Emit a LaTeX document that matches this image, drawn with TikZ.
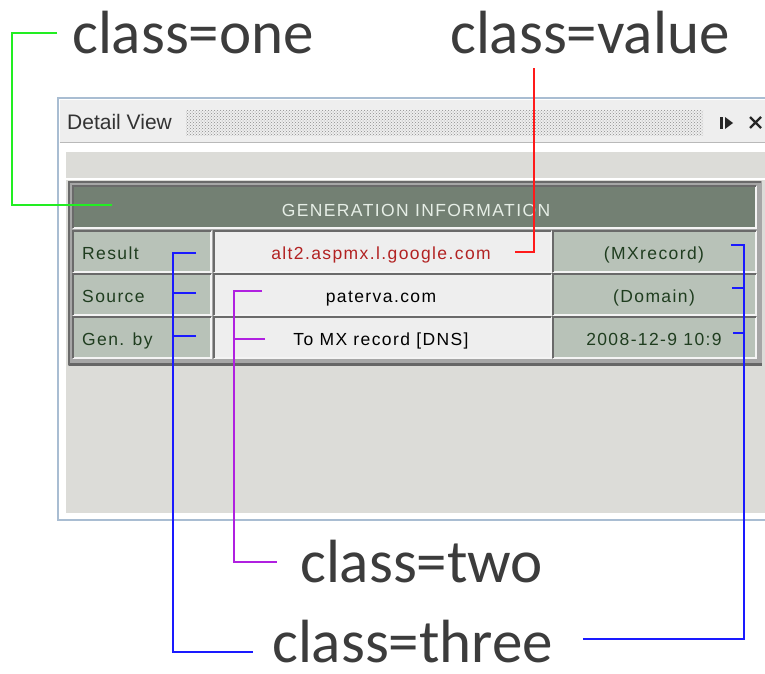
\documentclass[tikz,border=0pt]{standalone}
\usepackage{fontspec}
\setmainfont{Liberation Sans}
\newfontfamily\labelfont{Carlito}
\newfontfamily\uifont[LetterSpace=8]{Liberation Sans}
\usetikzlibrary{patterns}
\definecolor{winborder}{HTML}{A9BDD2}
\definecolor{titlebg}{HTML}{EEEEEE}
\definecolor{panelbg}{HTML}{DCDCD8}
\definecolor{headbg}{HTML}{738073}
\definecolor{headtxt}{HTML}{E6EEE6}
\definecolor{sidebg}{HTML}{B8C2B8}
\definecolor{midbg}{HTML}{EEEEEE}
\definecolor{celldark}{HTML}{6A6A6A}
\definecolor{celllight}{HTML}{F4F4F4}
\definecolor{greentxt}{HTML}{1F3D1F}
\definecolor{redtxt}{HTML}{B22222}
\definecolor{labeltxt}{HTML}{3C3C3C}
\definecolor{lgreen}{HTML}{22EE22}
\definecolor{lred}{HTML}{FF1A1A}
\definecolor{lblue}{HTML}{1A1AFF}
\definecolor{lpurple}{HTML}{B020E0}
\tikzset{
  biglabel/.style={anchor=base west, inner sep=0pt, text=labeltxt,
    font=\labelfont\fontsize{61}{61}\selectfont},
  uitext/.style={inner sep=0pt, anchor=base, font=\uifont\fontsize{17.5}{17.5}\selectfont},
  sidetext/.style={uitext, text=greentxt},
  conn/.style={line width=2pt},
  gline/.style={conn, draw=lgreen},
  rline/.style={conn, draw=lred},
  bline/.style={conn, draw=lblue},
  pline/.style={conn, draw=lpurple},
}
\newcommand{\mycell}[5]{%
  \fill[#5] (#1,#2) rectangle (#3,#4);
  \draw[celllight, line width=2pt] (#1,#4) -- (#3,#4) -- (#3,#2);
  \draw[celldark, line width=2.5pt] (#1,#4) -- (#1,#2) -- (#3,#2);
}
\begin{document}
\begin{tikzpicture}[x=1pt,y=-1pt]
\useasboundingbox (0,0) rectangle (765,673);
\fill[white] (0,0) rectangle (765,673);

% window
\draw[winborder, line width=2.5pt, fill=white] (58,98) rectangle (775,520);
\fill[titlebg] (59.5,99.5) rectangle (775,142);
\draw[gray!55, line width=1pt] (59.5,142.5) -- (775,142.5);
\fill[pattern=crosshatch dots, pattern color=black!45] (186,110) rectangle (703,135);
\node[anchor=west, inner sep=0pt, text=black!80, font=\fontsize{21}{21}\selectfont] (title) at (67,122) {Detail View};
\fill[black!85] (720,117) rectangle (723,129);
\fill[black!85] (725,117) -- (733,123) -- (725,129) -- cycle;
\draw[black!85, line width=2.3pt] (750,117) -- (761,128) (750,128) -- (761,117);

% panel
\fill[panelbg] (66,152) rectangle (775,513);
\draw[white, line width=1.2pt] (66,179) -- (775,179);

% table frame
\fill[black!35] (68,181) rectangle (762,366);
\draw[black!60, line width=3pt] (69,364) -- (762,364);
\draw[celldark, line width=2pt] (69,365) -- (69,182) -- (761,182);

% cells
\mycell{73}{186}{756}{228}{headbg}
\mycell{73}{231}{211}{272}{sidebg}
\mycell{214}{231}{551}{272}{midbg}
\mycell{553}{231}{756}{272}{sidebg}
\mycell{73}{274}{211}{315}{sidebg}
\mycell{214}{274}{551}{315}{midbg}
\mycell{553}{274}{756}{315}{sidebg}
\mycell{73}{317}{211}{358}{sidebg}
\mycell{214}{317}{551}{358}{midbg}
\mycell{553}{317}{756}{358}{sidebg}

% texts
\node[uitext, text=headtxt] (head) at (416,216) {GENERATION INFORMATION};
\node[sidetext, anchor=base west] (k1) at (82,259) {Result};
\node[sidetext, anchor=base west] (k2) at (82,302) {Source};
\node[sidetext, anchor=base west] (k3) at (82,345) {Gen. by};
\node[uitext, text=redtxt] (v1) at (381,259) {alt2.aspmx.l.google.com};
\node[uitext, text=black] (v2) at (381,302) {paterva.com};
\node[uitext, text=black] (v3) at (381,345) {To MX record [DNS]};
\node[sidetext] (t1) at (654,259) {(MXrecord)};
\node[sidetext] (t2) at (654,302) {(Domain)};
\node[sidetext] (t3) at (654,345) {2008-12-9 10:9};

% labels
\node[biglabel] (one) at (72,53) {class=one};
\node[biglabel] (value) at (450,53) {class=value};
\node[biglabel] (two) at (300,582) {class=two};
\node[biglabel] (three) at (272,662) {class=three};

% connector points
\coordinate (gA) at (57,33);
\coordinate (gB) at (12,33);
\coordinate (gC) at (12,205);
\coordinate (gD) at (112,205);
\coordinate (rA) at (534,68);
\coordinate (rB) at (534,252);
\coordinate (rC) at (515,252);
\coordinate (bL1) at (196,253);
\coordinate (bL2) at (196,293);
\coordinate (bL3) at (196,336);
\coordinate (bLx) at (173,253);
\coordinate (bLb) at (173,652);
\coordinate (bLe) at (253,652);
\coordinate (bR1) at (731,245);
\coordinate (bR2) at (732,288);
\coordinate (bR3) at (733,333);
\coordinate (bRx) at (744,245);
\coordinate (bRb) at (744,639);
\coordinate (bRe) at (583,639);
\coordinate (p1) at (262,291);
\coordinate (p2) at (265,339);
\coordinate (px) at (234,291);
\coordinate (pb) at (234,562);
\coordinate (pe) at (277,562);

% connectors
\draw[gline] (gA) -- (gB) -- (gC) -- (gD);
\draw[rline] (rA) -- (rB) -- (rC);
\draw[bline] (bL1) -- (bLx) -- (bLb) -- (bLe);
\draw[bline] (bL2) -- (bL2 -| bLx);
\draw[bline] (bL3) -- (bL3 -| bLx);
\draw[bline] (bR1) -- (bRx) -- (bRb) -- (bRe);
\draw[bline] (bR2) -- (bR2 -| bRx);
\draw[bline] (bR3) -- (bR3 -| bRx);
\draw[pline] (p1) -- (px) -- (pb) -- (pe);
\draw[pline] (p2) -- (p2 -| px);
\end{tikzpicture}
\end{document}
